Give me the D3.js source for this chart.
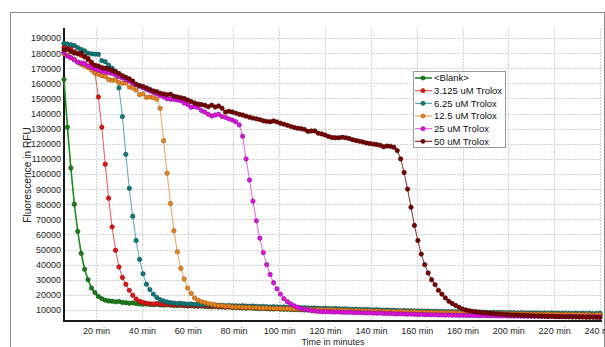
<!DOCTYPE html>
<html><head><meta charset="utf-8">
<script src="https://cdn.jsdelivr.net/npm/d3@7"></script>
<style>
body{margin:0;background:#fff;}
svg{display:block;font-family:"Liberation Sans",Arial,sans-serif;}
</style></head>
<body><svg id="c" width="605" height="347"></svg>
<script>
// Sampling grid (minutes)
const startMin = 6, stepMin = 1.5;
// Series values in thousands of RFU, one reading per step
const blank = [162.5,131,104,80,62,47.5,37,30,24.5,21.5,
19,17.5,16.5,16,15.8,15.4,15.6,15,14.8,14.5,
14.7,14.2,14,13.8,13.9,13.6,13.5,13.7,13.3,13.2,
13.4,13.1,13,12.9,13.1,12.8,12.6,12.7,12.5,12.4,
12.6,12.3,12.2,12.1,12.3,12,11.9,11.8,11.9,11.6,
11.5,11.6,11.3,11.2,11.4,11.1,11,10.9,11,10.8,
10.7,10.6,10.8,10.5,10.4,10.5,10.3,10.2,10.3,10.1,
10,10.1,9.9,9.8,10,9.7,9.8,9.6,9.7,9.5,
9.6,9.4,9.5,9.3,9.4,9.2,9.3,9.1,9.2,9.2,
9,9.1,8.9,9,8.8,8.9,8.8,8.7,8.8,8.6,
8.7,8.6,8.5,8.7,8.5,8.4,8.5,8.3,8.4,8.3,
8.2,8.3,8.2,8.1,8.2,8,8.2,8.1,8,7.9,
8,7.9,7.8,7.9,7.8,7.7,7.8,7.7,7.6,7.8,
7.6,7.7,7.5,7.6,7.5,7.6,7.4,7.5,7.4,7.5,
7.3,7.4,7.3,7.4,7.2,7.3,7.2,7.1,7.2,7.1,
7.2,7,7.1,7,7.1,6.9,7];
const trolox3125 = [184,183,183.5,181,180,178.5,177.5,175.5,171.5,167,
151,131,106.5,84,65,49.5,38.5,31.5,27,23,
19.8,17.3,15.8,15,14.5,14.2,14,14.3,13.8,13.6,
13.8,13.5,13.3,13.6,13.2,13.1,13,13.2,12.8,12.9,
12.7,12.8,12.5,12.6,12.4,12.3,12.4,12.1,12.2,12,
12.1,11.8,11.9,11.7,11.6,11.7,11.4,11.5,11.3,11.2,
11.3,11.1,11,11.1,10.9,10.8,10.9,10.7,10.6,10.5,
10.6,10.4,10.3,10.4,10.2,10.1,10,10.1,9.9,10,
9.8,9.9,9.7,9.6,9.7,9.5,9.6,9.4,9.5,9.3,
9.4,9.2,9.3,9.1,9.2,9,9.1,8.9,9,8.8,
8.9,8.7,8.8,8.6,8.7,8.5,8.6,8.4,8.5,8.3,
8.4,8.2,8.3,8.1,8.2,8,8.1,8,7.9,8,
7.8,7.9,7.7,7.8,7.6,7.7,7.5,7.6,7.5,7.4,
7.5,7.3,7.4,7.3,7.2,7.3,7.2,7.1,7.2,7.1,
7,7.1,7,7.1,6.9,7,6.9,7,6.8,6.9,
6.8,6.9,6.8,6.7,6.8,6.7,6.8];
const trolox625 = [186.5,186,185.5,185,183.6,182.5,181.5,180,179.5,179.3,
179.2,175,174.3,172,170,168,157,138,113,90.5,
72,56,43.5,34,27,23.5,20.5,18.3,16.8,16,
15.3,14.8,14.6,14.3,14.5,14.1,13.9,14,13.7,13.8,
13.5,13.6,13.4,13.2,13.3,13.1,13.2,12.9,13,12.8,
12.9,12.7,12.8,12.6,12.5,12.6,12.4,12.3,12.4,12.2,
12.1,12.2,12,11.9,12,11.8,11.7,11.8,11.6,11.5,
11.6,11.4,11.3,11.4,11.2,11.1,11.2,11,10.9,11,
10.8,10.7,10.8,10.6,10.5,10.6,10.4,10.3,10.4,10.2,
10.1,10.2,10,9.9,10,9.8,9.9,9.7,9.6,9.7,
9.5,9.6,9.4,9.3,9.4,9.2,9.3,9.1,9.2,9,
9.1,9,8.9,9,8.8,8.9,8.7,8.8,8.7,8.6,
8.7,8.5,8.6,8.5,8.4,8.5,8.3,8.4,8.3,8.2,
8.3,8.2,8.1,8.2,8.1,8,8.1,8,8.1,7.9,
8,7.9,8,7.8,7.9,7.8,7.9,7.8,7.7,7.8,
7.7,7.8,7.7,7.8,7.6,7.7,7.8];
const trolox125 = [179.5,178.5,177,176,174,172.5,171.5,170.5,168.8,167,
166,165,164.5,162.5,162,162.2,160.5,160,160.2,157.5,
157,155.5,152.5,153,150.7,151,150.5,149.5,143.5,122,
100.5,80.5,62.5,48.5,37.5,30.5,24.5,21,18,16.5,
15.5,14.8,14.2,13.8,13.3,13,12.8,12.5,12.6,12.1,
12,12.1,11.8,11.7,11.8,11.5,11.6,11.4,11.3,11.4,
11.2,11.1,11.2,11,10.9,11,10.8,10.7,10.8,10.6,
10.5,10.6,10.4,10.3,10.4,10.2,10.1,10.2,10,9.9,
10,9.8,9.9,9.7,9.6,9.7,9.5,9.6,9.4,9.4,
9.3,9.4,9.2,9.1,9.2,9,9.1,8.9,9,8.8,
8.8,8.7,8.8,8.6,8.7,8.5,8.6,8.4,8.5,8.3,
8.4,8.3,8.2,8.3,8.1,8.2,8.1,8,8.1,7.9,
8,7.9,7.8,7.9,7.7,7.8,7.7,7.6,7.7,7.5,
7.6,7.5,7.4,7.5,7.4,7.3,7.4,7.3,7.2,7.3,
7.2,7.3,7.1,7.2,7.1,7,7.1,7,7.1,6.9,
7,6.9,7,6.9,6.8,6.9,6.9];
const trolox25 = [180.5,178,177,175.5,174,173.5,173,171.5,170.5,169.5,
168.8,168,167.5,167,166.5,165.5,164.5,163.5,162.5,161.5,
160,159,158,157,156,155,154,153,152,151,
149.8,149.5,149.4,149,148.5,147,146,144.2,144.5,144,
142,141,139.5,138.4,139,139.5,138,137.5,136.5,135.7,
134.6,132.5,125,110,96,82,69,57.5,48,40,
33.5,28,24,20.5,17.5,15.5,14,12.8,11.8,11,
10.5,10,9.6,9.3,9,8.9,8.8,8.9,8.7,8.6,
8.7,8.5,8.4,8.5,8.3,8.2,8.3,8.1,8,8.1,
7.9,7.8,7.9,7.7,7.6,7.7,7.5,7.4,7.5,7.3,
7.2,7.3,7.1,7,7.1,6.9,6.9,6.8,6.9,6.7,
6.7,6.6,6.7,6.5,6.6,6.4,6.5,6.4,6.3,6.4,
6.3,6.2,6.3,6.2,6.1,6.2,6.1,6,6.1,6,
6,5.9,6,5.9,5.9,5.8,5.9,5.8,5.8,5.7,
5.8,5.7,5.8,5.7,5.7,5.6,5.7,5.6,5.6,5.6,
5.5,5.6,5.5,5.6,5.5,5.5,5.4];
const trolox50 = [182,182.5,181,180,179.5,180,178,176.5,174,172,
171.5,170.5,170,169.5,168.5,167.5,166.5,165,164,163,
161.5,159.5,158.5,158,157,156,155,154.5,153.5,153,
152.5,152.8,151.5,151,150.5,150,149,148,147,146.3,
146,145.5,144.5,145.6,144.3,145,143.5,141,141.5,141,
140.3,139.5,139,138.3,137.6,137,136.5,136,135.2,134.8,
134.6,135.1,134.5,133.6,133,132.3,131.5,130.8,130.3,130,
129.5,128.2,128.5,128.5,127,126.5,125.8,124.8,124.2,124,
124,124.3,124,123.5,122.7,122.2,121.7,121.2,120.5,120.2,
119.8,119.5,119,118,118.5,118.3,117.7,115.5,110,101,
90,78,66,56,47,40,34.5,30,26.8,23,
20.5,18,15.8,14.3,13,11.8,10.7,10,9.5,9.1,
8.8,8.5,8.2,8,7.8,7.6,7.4,7.3,7.1,7,
6.8,6.7,6.6,6.5,6.4,6.3,6.2,6.1,6,6,
5.9,5.8,5.8,5.7,5.6,5.6,5.5,5.5,5.4,5.4,
5.3,5.3,5.2,5.2,5.2,5.1,5.1];

const seriesNames = ["<Blank>","3.125 uM Trolox","6.25 uM Trolox","12.5 uM Trolox","25 uM Trolox","50 uM Trolox"];
const seriesValues = [blank, trolox3125, trolox625, trolox125, trolox25, trolox50];
const lineColors = ["#1f8a1f","#e25858","#56a9a9","#f0a458","#e463e4","#8e2a2a"];
const markColors = ["#1c7d1c","#e41414","#0e7b7b","#e9841f","#e012e0","#7c0000"];
const markStroke = ["#0b4d0b","#8a0a0a","#074848","#9a560f","#8a0a8a","#3d0000"];
const yTicks = d3.range(10000, 190001, 10000);
const xTicks = [20,40,60,80,100,120,140,160,180,200,220,240];

const svg = d3.select("#c");
const x = d3.scaleLinear().domain([6, 240.9]).range([64, 602]);
const y = d3.scaleLinear().domain([2720, 196620]).range([321, 28]);

// outer frame
svg.append("rect").attr("x",10.5).attr("y",12.5).attr("width",594).attr("height",345)
  .attr("fill","none").attr("stroke","#8a8a8a").attr("stroke-width",1);

// grid
const grid = svg.append("g").attr("stroke","#d4d4d4").attr("stroke-width",1).attr("stroke-dasharray","2,1");
grid.selectAll("line.h").data(yTicks).join("line").attr("class","h")
  .attr("x1",64).attr("x2",602).attr("y1",d=>Math.round(y(d))+0.5).attr("y2",d=>Math.round(y(d))+0.5);
grid.selectAll("line.v").data(xTicks).join("line").attr("class","v")
  .attr("y1",28).attr("y2",321).attr("x1",d=>Math.round(x(d))+0.5).attr("x2",d=>Math.round(x(d))+0.5);

// axes
const yAxis = svg.append("g").attr("transform","translate(64,0)")
  .call(d3.axisLeft(y).tickValues(yTicks).tickSize(0).tickPadding(3).tickFormat(d=>String(d)));
const xAxis = svg.append("g").attr("transform","translate(0,321)")
  .call(d3.axisBottom(x).tickValues(xTicks).tickSize(0).tickPadding(7).tickFormat(d=>d+" min"));
[yAxis,xAxis].forEach(a=>{
  a.select(".domain").remove();
  a.selectAll("text").attr("font-size","9px").attr("fill","#222").attr("font-family","Liberation Sans, Arial, sans-serif");
});
svg.append("line").attr("x1",64).attr("x2",64).attr("y1",28).attr("y2",322).attr("stroke","#1a1a1a").attr("stroke-width",2);
svg.append("line").attr("x1",63).attr("x2",602).attr("y1",321).attr("y2",321).attr("stroke","#1a1a1a").attr("stroke-width",2);

// titles
svg.append("text").attr("x",333).attr("y",345).attr("text-anchor","middle")
  .attr("font-size","9px").attr("fill","#222").text("Time in minutes");
svg.append("text").attr("transform","translate(27,175) rotate(-90)").attr("text-anchor","middle")
  .attr("dy","0.35em").attr("font-size","10.2px").attr("fill","#222").text("Fluorescence in RFU");

// series
const line = d3.line().x(d=>x(d.t)).y(d=>y(d.v));
seriesValues.forEach((vals,si)=>{
  const pts = vals.map((v,i)=>({t:startMin+stepMin*i, v:v*1000}));
  const g = svg.append("g");
  g.append("path").datum(pts).attr("d",line).attr("fill","none")
    .attr("stroke",lineColors[si]).attr("stroke-width", si===0?1.6:1);
  g.selectAll("circle").data(pts).join("circle")
    .attr("cx",d=>x(d.t)).attr("cy",d=>y(d.v)).attr("r",2.2)
    .attr("fill",markColors[si]).attr("stroke",markStroke[si]).attr("stroke-width",0.6);
});

// legend
const lg = svg.append("g");
lg.append("rect").attr("x",413.5).attr("y",71.5).attr("width",92).attr("height",76)
  .attr("fill","#fff").attr("stroke","#9a9a9a").attr("stroke-width",1);
seriesNames.forEach((n,i)=>{
  const yy = 78 + i*12.67;
  lg.append("line").attr("x1",415).attr("x2",432).attr("y1",yy).attr("y2",yy)
    .attr("stroke",lineColors[i]).attr("stroke-width", i===0?1.6:1.2);
  lg.append("circle").attr("cx",423).attr("cy",yy).attr("r",2.1)
    .attr("fill",markColors[i]).attr("stroke",markStroke[i]).attr("stroke-width",0.6);
  lg.append("text").attr("x",434).attr("y",yy).attr("dy","0.35em")
    .attr("font-size","9.5px").attr("fill","#111").text(n);
});
</script></body></html>
